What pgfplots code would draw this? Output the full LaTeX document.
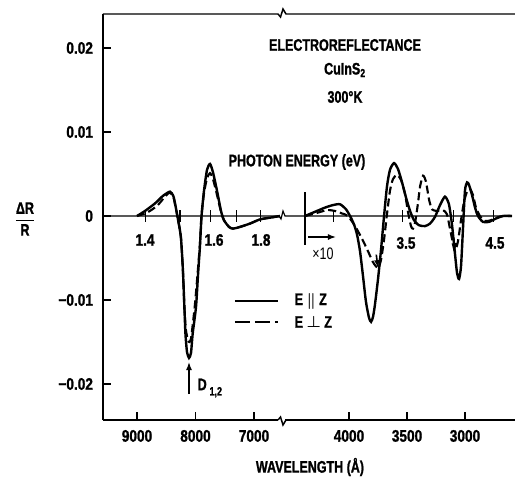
\documentclass[border=0pt]{standalone}
\usepackage{pgfplots}
\pgfplotsset{compat=1.18}
\usepackage{pgfplotstable}
\usepackage{amsmath}
\usepackage{fontspec}
\setmainfont{Liberation Sans}[FakeStretch=0.75, BoldFeatures={FakeBold=1.2}]
\newfontfamily\tickfont{Liberation Sans}[FakeStretch=0.82, BoldFeatures={FakeBold=1.2}]
\usetikzlibrary{arrows.meta}

% wavelength (Angstrom) vs Delta R / R
\pgfplotstableread{
w r
9000 0
8863 0.0006
8692 0.0015
8556 0.0024
8436 0.0029
8380 0.0024
8350 0.0015
8310 0
8250 -0.0025
8215 -0.0065
8192 -0.0105
8172 -0.0140
8145 -0.0162
8111 -0.0169
8077 -0.0163
8048 -0.0140
7991 -0.0108
7957 -0.0070
7923 -0.0035
7897 0
7855 0.0030
7803 0.0055
7752 0.0062
7701 0.0052
7632 0.0030
7564 0.0006
7513 -0.0005
7427 -0.0013
7359 -0.0015
7239 -0.0013
7068 -0.0009
6897 -0.0004
6726 -0.0002
6556 0
}\leftsolid

\pgfplotstableread{
w r
9000 0
8829 0.0004
8658 0.0012
8521 0.0023
8444 0.0028
8380 0.0023
8350 0.0014
8310 0
8250 -0.0025
8215 -0.0065
8192 -0.0105
8165 -0.0135
8128 -0.0148
8103 -0.0150
8077 -0.0146
8048 -0.0130
8009 -0.0105
7966 -0.0070
7926 -0.0035
7897 0
7855 0.0027
7803 0.0045
7752 0.0051
7701 0.0044
7632 0.0025
7564 0.0005
7513 -0.0005
7427 -0.0013
7359 -0.0015
7239 -0.0013
7068 -0.0009
6897 -0.0004
6726 -0.0002
6556 0
}\leftdashed

\pgfplotstableread{
w r
4379 0
4293 0.0005
4207 0.0010
4138 0.0013
4078 0.0014
4026 0.0008
3991 0
3957 -0.0010
3931 -0.0022
3905 -0.0042
3879 -0.0072
3854 -0.0102
3828 -0.0121
3810 -0.0126
3793 -0.0120
3776 -0.0105
3750 -0.0075
3724 -0.0040
3698 0
3673 0.0035
3647 0.0055
3612 0.0063
3578 0.0056
3543 0.0040
3509 0.0022
3474 0.0006
3440 -0.0005
3397 -0.0011
3345 -0.0012
3302 -0.0009
3259 -0.0001
3216 0.0013
3173 0.0023
3139 0.0014
3113 -0.0010
3087 -0.0045
3069 -0.0068
3052 -0.0075
3035 -0.0060
3018 -0.0015
3001 0.0030
2983 0.0040
2966 0.0037
2940 0.0025
2914 0.0010
2889 0
2846 -0.0007
2794 -0.0007
2734 -0.0003
2673 0
2596 0
}\rightsolid

\pgfplotstableread{
w r
4379 0
4293 0.0003
4190 0.0007
4121 0.0006
4060 0.0003
4009 0
3948 -0.0012
3888 -0.0027
3836 -0.0042
3793 -0.0055
3750 -0.0062
3724 -0.0052
3698 -0.0028
3673 0.0002
3647 0.0030
3621 0.0044
3586 0.0049
3552 0.0043
3517 0.0026
3492 0.0005
3466 -0.0012
3449 -0.0015
3431 -0.0008
3406 0.0015
3388 0.0035
3362 0.0048
3337 0.0041
3311 0.0020
3285 0.0008
3242 0.0006
3190 0.0007
3156 0.0002
3130 -0.0015
3104 -0.0033
3087 -0.0042
3061 -0.0030
3035 -0.0005
3009 0.0017
2983 0.0029
2957 0.0032
2932 0.0025
2906 0.0010
2872 0
2828 -0.0006
2777 -0.0005
2725 -0.0002
2673 0
2596 0
}\rightdashed

\begin{document}
\begin{tikzpicture}[font=\fontsize{12.5}{14}\selectfont\bfseries]
\useasboundingbox (-77.25pt,-42pt) rectangle (309pt,315pt);
\begin{axis}[
  at={(0,0)}, anchor=south west,
  scale only axis, width=309pt, height=304.5pt,
  xmin=-0.5812, xmax=6.4615, ymin=-0.024286, ymax=0.024048,
  axis x line*=bottom, axis y line*=left,
  tick align=inside, major tick length=6pt,
  every tick/.style={black, line width=0.9pt},
  axis line style={line width=1.1pt},
  xtick={0,1,2,3.624,4.616,5.607},
  xticklabels={9000,8000,7000,4000,3500,3000},
  ytick={-0.02,-0.01,0,0.01,0.02},
  yticklabels={−0.02,−0.01,0,0.01,0.02},
  scaled y ticks=false,
  /pgf/number format/assume math mode=true,
  ticklabel style={font=\fontsize{12.5}{14}\tickfont\bfseries},
  xticklabel style={yshift=-4pt},
  yticklabel style={xshift=-4pt},
  clip=false,
]
\addplot[black, line width=1.8pt, smooth, tension=0.4] table[x expr={(9000-\thisrow{w})/1000}, y=r] {\leftsolid};
\addplot[black, line width=1.6pt, dash pattern=on 6pt off 3pt, smooth, tension=0.4] table[x expr={(9000-\thisrow{w})/1000}, y=r] {\leftdashed};
\addplot[black, line width=1.8pt, smooth, tension=0.4] table[x expr={3.624+(4000-\thisrow{w})/504}, y=r] {\rightsolid};
\addplot[black, line width=1.6pt, dash pattern=on 6pt off 3pt, smooth, tension=0.4] table[x expr={3.624+(4000-\thisrow{w})/504}, y=r] {\rightdashed};
% arrow heads at dashed minima
\draw[-{Latex[length=6pt,width=4.5pt]}, line width=1.2pt] (axis cs:4.09,-0.0046) -- (axis cs:4.120,-0.0062);
\draw[-{Latex[length=6pt,width=4.5pt]}, line width=1.2pt] (axis cs:5.415,-0.0026) -- (axis cs:5.4355,-0.0042);
\end{axis}

\begin{scope}[x=0.75pt, y=-0.75pt, xshift=-77.25pt, yshift=315pt]
% top frame line with break
\draw[line width=1.1pt] (103,14) -- (278,14) -- (280.5,17) -- (283,9) -- (286,14) -- (515,14);
% bottom axis break
\draw[white, line width=3pt] (278.5,420) -- (285.5,420);
\draw[line width=1.1pt] (278,420) -- (280.5,417) -- (283,425) -- (286,420);
% zero line with break
\draw[line width=0.9pt] (103,216) -- (279,216) -- (281,219) -- (283,211) -- (285,216) -- (512,216);
% photon-energy ticks (1.4,1.5,1.6,1.7,1.8 and 3.0,3.5,4.0,4.5 eV)
\foreach \p in {145.4,180.0,210.2,236.9,260.6,333.6,402.1,453.5,493.5}{
  \draw[line width=0.9pt] (\p,210) -- (\p,222);
}
% y label
\node at (25,219) {$\displaystyle\frac{\mbox{\bfseries ΔR}}{\mbox{\bfseries R}}$};
% energy labels
\node[font=\fontsize{12.5}{14}\tickfont\bfseries] at (145,240) {1.4};
\node[font=\fontsize{12.5}{14}\tickfont\bfseries] at (214,240) {1.6};
\node[font=\fontsize{12.5}{14}\tickfont\bfseries] at (261,240) {1.8};
\node[font=\fontsize{12.5}{14}\tickfont\bfseries] at (406,243) {3.5};
\node[font=\fontsize{12.5}{14}\tickfont\bfseries] at (495,243) {4.5};
\node at (297,162) {PHOTON ENERGY (eV)};
% titles
\node at (345,45) {ELECTROREFLECTANCE};
\node at (345,70) {CuInS\textsubscript{2}};
\node at (345,97) {300°K};
% x10 marker
\draw[line width=1.1pt] (305,192) -- (305,245);
\draw[-{Latex[length=6pt,width=4.5pt]}, line width=1.1pt] (308,237) -- (336,237);
\node at (323,254) {\mdseries ×10};
% legend
\draw[line width=1.8pt] (235,301) -- (278,301);
\node[anchor=west] at (290,301) {E $\boldsymbol{\parallel}$ Z};
\draw[line width=1.6pt, dash pattern=on 11pt off 4pt] (235,322) -- (278,322);
\node[anchor=west] at (290,322) {E $\boldsymbol{\perp}$ Z};
% D label
\draw[-{Latex[length=6pt,width=4.5pt]}, line width=1.1pt] (189,394) -- (189,362);
\node[anchor=west] at (193,388) {D\,\raisebox{-0.6ex}{\fontsize{9}{10}\selectfont 1,2}};
% x label
\node at (310,467) {WAVELENGTH (Å)};
\end{scope}
\end{tikzpicture}
\end{document}
